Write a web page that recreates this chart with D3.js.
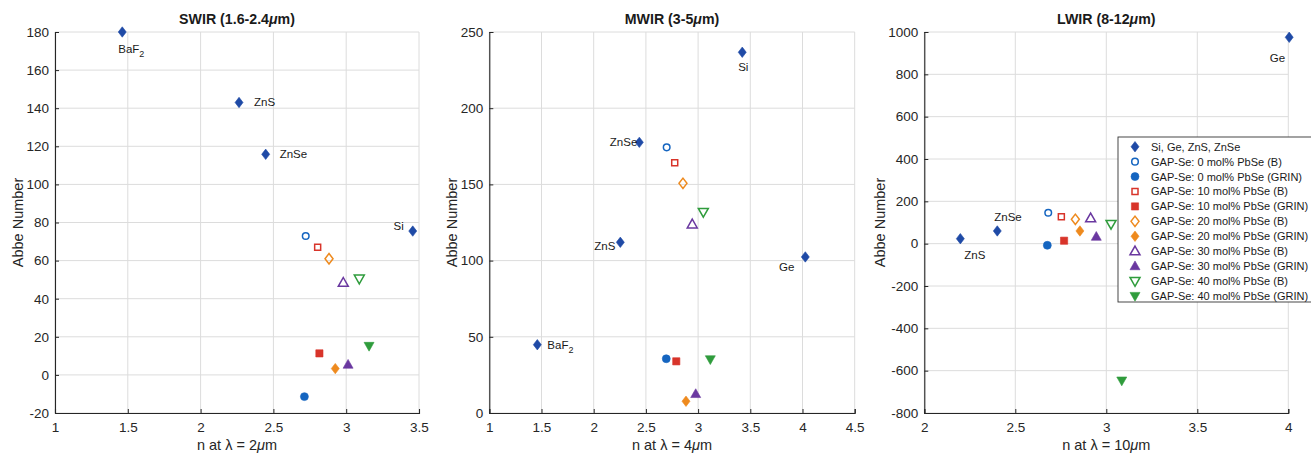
<!DOCTYPE html>
<html><head><meta charset="utf-8">
<script src="https://cdn.jsdelivr.net/npm/d3@7"></script>
<style>
body{margin:0;background:#fff;}
svg{font-family:"Liberation Sans",Arial,Helvetica,sans-serif;}
</style></head>
<body><svg id="c" width="1311" height="454"></svg>
<script>
// ---------- data ----------
const seriesNames = ["Si, Ge, ZnS, ZnSe","GAP-Se: 0 mol% PbSe (B)","GAP-Se: 0 mol% PbSe (GRIN)",
 "GAP-Se: 10 mol% PbSe (B)","GAP-Se: 10 mol% PbSe (GRIN)","GAP-Se: 20 mol% PbSe (B)",
 "GAP-Se: 20 mol% PbSe (GRIN)","GAP-Se: 30 mol% PbSe (B)","GAP-Se: 30 mol% PbSe (GRIN)",
 "GAP-Se: 40 mol% PbSe (B)","GAP-Se: 40 mol% PbSe (GRIN)"];
// [before mu, after mu]
const panelTitles = [["SWIR (1.6-2.4","m)"],["MWIR (3-5","m)"],["LWIR (8-12","m)"]];
const xLabels = [["n at \u03BB = 2","m"],["n at \u03BB = 4","m"],["n at \u03BB = 10","m"]];
const xDomains = [[1,3.5],[1,4.5],[2,4]];
const yDomains = [[-20,180],[0,250],[-800,1000]];
const xTicks = [[1,1.5,2,2.5,3,3.5],[1,1.5,2,2.5,3,3.5,4,4.5],[2,2.5,3,3.5,4]];
const yTicks = [[-20,0,20,40,60,80,100,120,140,160,180],[0,50,100,150,200,250],[-800,-600,-400,-200,0,200,400,600,800,1000]];

// reference materials per panel: name, n, Abbe number
const swirMaterials = [["BaF2",1.462,180],["ZnS",2.264,143],["ZnSe",2.447,115.8],["Si",3.457,75.5]];
const mwirMaterials = [["Si",3.423,236.7],["ZnSe",2.437,177.6],["ZnS",2.255,112],["Ge",4.027,102.4],["BaF2",1.46,44.8]];
const lwirMaterials = [["Ge",4.005,975],["ZnSe",2.401,60],["ZnS",2.198,23.5]];

// GAP-Se glasses: [n, Abbe] in order 0B,0G,10B,10G,20B,20G,30B,30G,40B,40G
const swirGlass = [[2.722,72.9],[2.713,-11.4],[2.804,67],[2.816,11.3],[2.882,61],[2.925,3.3],[2.98,48.4],[3.013,5.4],[3.09,50.5],[3.157,15.2]];
const mwirGlass = [[2.699,174.3],[2.695,35.6],[2.776,164.2],[2.791,33.9],[2.855,150.7],[2.884,7.7],[2.944,123.8],[2.977,12.5],[3.05,131.9],[3.117,35.2]];
const lwirGlass = [[2.681,146],[2.676,-7.7],[2.753,127],[2.768,14],[2.83,115],[2.855,60],[2.914,120],[2.945,33],[3.026,93],[3.085,-647]];

// ---------- styles ----------
const seriesShape = ["diamond","circle","circle","square","square","diamond","diamond","triUp","triUp","triDown","triDown"];
const seriesColor = ["#1f4aa6","#1565c0","#1565c0","#d8342a","#d8342a","#ee8a1e","#ee8a1e","#6a38a0","#6a38a0","#2f9c3c","#2f9c3c"];
const seriesFilled = [true,false,true,false,true,false,true,false,true,false,true];
// label placement for each material label: [anchor, dx, dy]
const labelPlace = [
  {BaF2:["start",-4,21],ZnS:["start",15,4],ZnSe:["start",14,4],Si:["end",-9,-1]},
  {Si:["middle",1,19],ZnSe:["end",-2,4],ZnS:["end",-5,8],Ge:["end",-11,14],BaF2:["start",10,4]},
  {Ge:["end",-4,25],ZnSe:["start",-3,-10],ZnS:["start",4,20]}
];
const panels = [
  {x0:55,x1:419,lab:18,mats:swirMaterials,glass:swirGlass},
  {x0:489.3,x1:854.7,lab:452,mats:mwirMaterials,glass:mwirGlass},
  {x0:924.3,x1:1288.3,lab:880,mats:lwirMaterials,glass:lwirGlass}
];
const plotTop=32,plotBottom=413;
const svg=d3.select("#c");

function symPath(shape,filled){
  if(shape==="diamond") return "M0,-5.2L4,0L0,5.2L-4,0Z";
  if(shape==="circle") return d3.symbol(d3.symbolCircle,filled?50:34)();
  if(shape==="square") return filled?"M-3.6,-3.6H3.6V3.6H-3.6Z":"M-3,-3H3V3H-3Z";
  if(shape==="triUp") return "M0,-5.2L5,3.6L-5,3.6Z";
  if(shape==="triDown") return "M0,5.2L5,-3.6L-5,-3.6Z";
}
function drawSym(g,i,x,y){
  const filled=seriesFilled[i];
  g.append("path").attr("d",symPath(seriesShape[i],filled)).attr("transform",`translate(${x},${y})`)
   .attr("fill",filled?seriesColor[i]:"none").attr("stroke",seriesColor[i])
   .attr("stroke-width",filled?0.6:1.5);
}
function muText(t,parts){
  t.text(parts[0]);
  t.append("tspan").attr("font-style","italic").text("\u03BC");
  t.append("tspan").text(parts[1]);
}

panels.forEach((P,k)=>{
  const x=d3.scaleLinear().domain(xDomains[k]).range([P.x0,P.x1]);
  const y=d3.scaleLinear().domain(yDomains[k]).range([plotBottom,plotTop]);
  const g=svg.append("g");
  // grid
  g.selectAll(".gx").data(xTicks[k]).join("line").attr("x1",d=>x(d)).attr("x2",d=>x(d))
    .attr("y1",plotTop).attr("y2",plotBottom).attr("stroke","#dcdcdc").attr("stroke-width",1);
  g.selectAll(".gy").data(yTicks[k]).join("line").attr("y1",d=>y(d)).attr("y2",d=>y(d))
    .attr("x1",P.x0).attr("x2",P.x1).attr("stroke","#dcdcdc").attr("stroke-width",1);
  // axes
  const fmt=d=>String(d);
  const ax=d3.axisBottom(x).tickValues(xTicks[k]).tickSize(-4).tickPadding(9).tickFormat(fmt);
  const ay=d3.axisLeft(y).tickValues(yTicks[k]).tickSize(-4).tickPadding(6).tickFormat(fmt);
  const gx=g.append("g").attr("transform",`translate(0,${plotBottom})`).call(ax);
  const gy=g.append("g").attr("transform",`translate(${P.x0},0)`).call(ay);
  [gx,gy].forEach(a=>{
    a.select(".domain").attr("stroke","#262626").attr("stroke-width",1.1);
    a.selectAll(".tick line").attr("stroke","#262626");
    a.selectAll("text").attr("font-size",13.5).attr("fill","#262626").attr("font-family","Liberation Sans, Arial, sans-serif");
  });
  // title
  muText(g.append("text").attr("x",(P.x0+P.x1)/2).attr("y",24).attr("text-anchor","middle")
    .attr("font-weight","bold").attr("font-size",14.2).attr("fill","#1a1a1a"), panelTitles[k]);
  muText(g.append("text").attr("x",(P.x0+P.x1)/2).attr("y",450).attr("text-anchor","middle")
    .attr("font-size",14.5).attr("fill","#262626"), xLabels[k]);
  g.append("text").attr("transform",`translate(${P.lab+5},${(plotTop+plotBottom)/2}) rotate(-90)`)
    .attr("text-anchor","middle").attr("font-size",14.5).attr("fill","#262626").text("Abbe Number");
  // glass points
  P.glass.forEach((d,i)=>drawSym(g,i+1,x(d[0]),y(d[1])));
  // materials
  P.mats.forEach(m=>{
    drawSym(g,0,x(m[1]),y(m[2]));
    const lp=labelPlace[k][m[0]];
    const t=g.append("text").attr("x",x(m[1])+lp[1]).attr("y",y(m[2])+lp[2])
      .attr("text-anchor",lp[0]).attr("font-size",11.5).attr("fill","#1a1a1a");
    if(m[0]==="BaF2"){ t.text("BaF"); t.append("tspan").attr("font-size",9).attr("dy",4).text("2"); }
    else t.text(m[0]);
  });
});

// legend
const lg=svg.append("g");
lg.append("rect").attr("x",1118).attr("y",137).attr("width",200).attr("height",165)
  .attr("fill","#fff").attr("stroke","#333").attr("stroke-width",0.9);
seriesNames.forEach((s,i)=>{
  const yy=146.7+i*14.93;
  drawSym(lg,i,1135,yy);
  lg.append("text").attr("x",1151).attr("y",yy+4).attr("font-size",11).attr("fill","#1a1a1a").text(s);
});
</script></body></html>
